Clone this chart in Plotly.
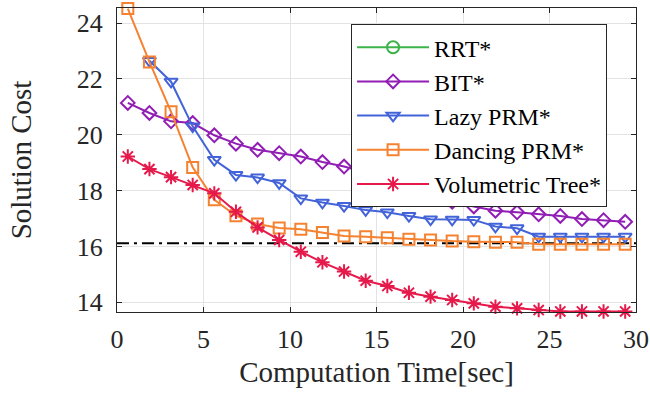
import plotly.graph_objects as go

time_s = [0.625, 1.875, 3.125, 4.375, 5.625, 6.875, 8.125, 9.375, 10.625, 11.875,
          13.125, 14.375, 15.625, 16.875, 18.125, 19.375, 20.625, 21.875, 23.125,
          24.375, 25.625, 26.875, 28.125, 29.375]

rrt_x = [None]
rrt_cost = [None]

bit_cost = [21.14, 20.78, 20.48, 20.42, 19.98, 19.68, 19.46, 19.34, 19.22, 19.02,
            18.86, 18.65, 18.38, 18.12, 17.9, 17.6, 17.43, 17.28, 17.22, 17.15,
            17.09, 16.98, 16.94, 16.88]

lazy_x = time_s[1:]
lazy_cost = [22.65, 21.9, 20.3, 19.1, 18.56, 18.47, 18.27, 17.72, 17.57, 17.45,
             17.3, 17.22, 17.09, 16.97, 16.96, 16.95, 16.71, 16.65, 16.35, 16.35,
             16.35, 16.35, 16.35]

dancing_cost = [24.52, 22.61, 20.82, 18.83, 17.67, 17.1, 16.8, 16.66, 16.61, 16.5,
                16.37, 16.35, 16.31, 16.26, 16.23, 16.19, 16.17, 16.15, 16.15, 16.08,
                16.08, 16.08, 16.08, 16.08]

vol_cost = [19.22, 18.77, 18.48, 18.2, 17.9, 17.24, 16.68, 16.23, 15.81, 15.43,
            15.1, 14.77, 14.58, 14.34, 14.2, 14.08, 13.96, 13.84, 13.78, 13.72,
            13.67, 13.67, 13.67, 13.67]

ref_x = [0, 30]
ref_cost = [16.11, 16.11]

FONT = "Times New Roman, Liberation Serif, serif"
fig = go.Figure()

fig.add_trace(go.Scatter(x=ref_x, y=ref_cost, mode="lines", showlegend=False,
                         line=dict(color="black", width=2, dash="12px,5px,3px,5px")))

series = [
    ("RRT*", rrt_x, rrt_cost, "#3cb44b", "circle-open", 12),
    ("BIT*", time_s, bit_cost, "#911eb4", "diamond-open", 10.5),
    ("Lazy PRM*", lazy_x, lazy_cost, "#4363d8", "triangle-down-open", 11.5),
    ("Dancing PRM*", time_s, dancing_cost, "#f58231", "square-open", 11),
    ("Volumetric Tree*", time_s, vol_cost, "#e6194b", "asterisk-open", 12),
]
for name, xs, ys, col, sym, sz in series:
    fig.add_trace(go.Scatter(
        x=xs, y=ys, name=name, mode="lines+markers", cliponaxis=False,
        line=dict(color=col, width=2),
        marker=dict(symbol=sym, size=sz, color=col, line=dict(color=col, width=2)),
    ))

axis_common = dict(
    showline=True, linecolor="#262626", linewidth=1, mirror="ticks",
    ticks="inside", ticklen=5, tickcolor="#262626", automargin=False,
    showgrid=True, gridcolor="#e3e3e3", gridwidth=1, zeroline=False,
    tickfont=dict(family=FONT, size=26, color="#262626"),
)

fig.update_xaxes(range=[0, 30], tickvals=[0, 5, 10, 15, 20, 25, 30],
                 ticklabeloverflow="allow", ticklabelstandoff=4,
                 title=dict(text="Computation Time[sec]", standoff=8,
                            font=dict(family=FONT, size=29, color="#262626")),
                 **axis_common)
fig.update_yaxes(range=[13.65, 24.54], tickvals=[14, 16, 18, 20, 22, 24],
                 ticklabelstandoff=8,
                 title=dict(text="Solution Cost", standoff=36,
                            font=dict(family=FONT, size=29, color="#262626")),
                 **axis_common)

fig.update_layout(
    width=650, height=393,
    margin=dict(l=117, r=14, t=8, b=81),
    plot_bgcolor="white", paper_bgcolor="white",
    font=dict(family=FONT, color="black"),
    legend=dict(x=0.451, y=0.947, xanchor="left", yanchor="top",
                bgcolor="white", bordercolor="#262626", borderwidth=1,
                font=dict(family=FONT, size=24, color="black"),
                tracegroupgap=0, itemwidth=72),
)

fig.write_html("out.html", config={"displayModeBar": False},
               post_script="document.body.style.margin='0px';")
